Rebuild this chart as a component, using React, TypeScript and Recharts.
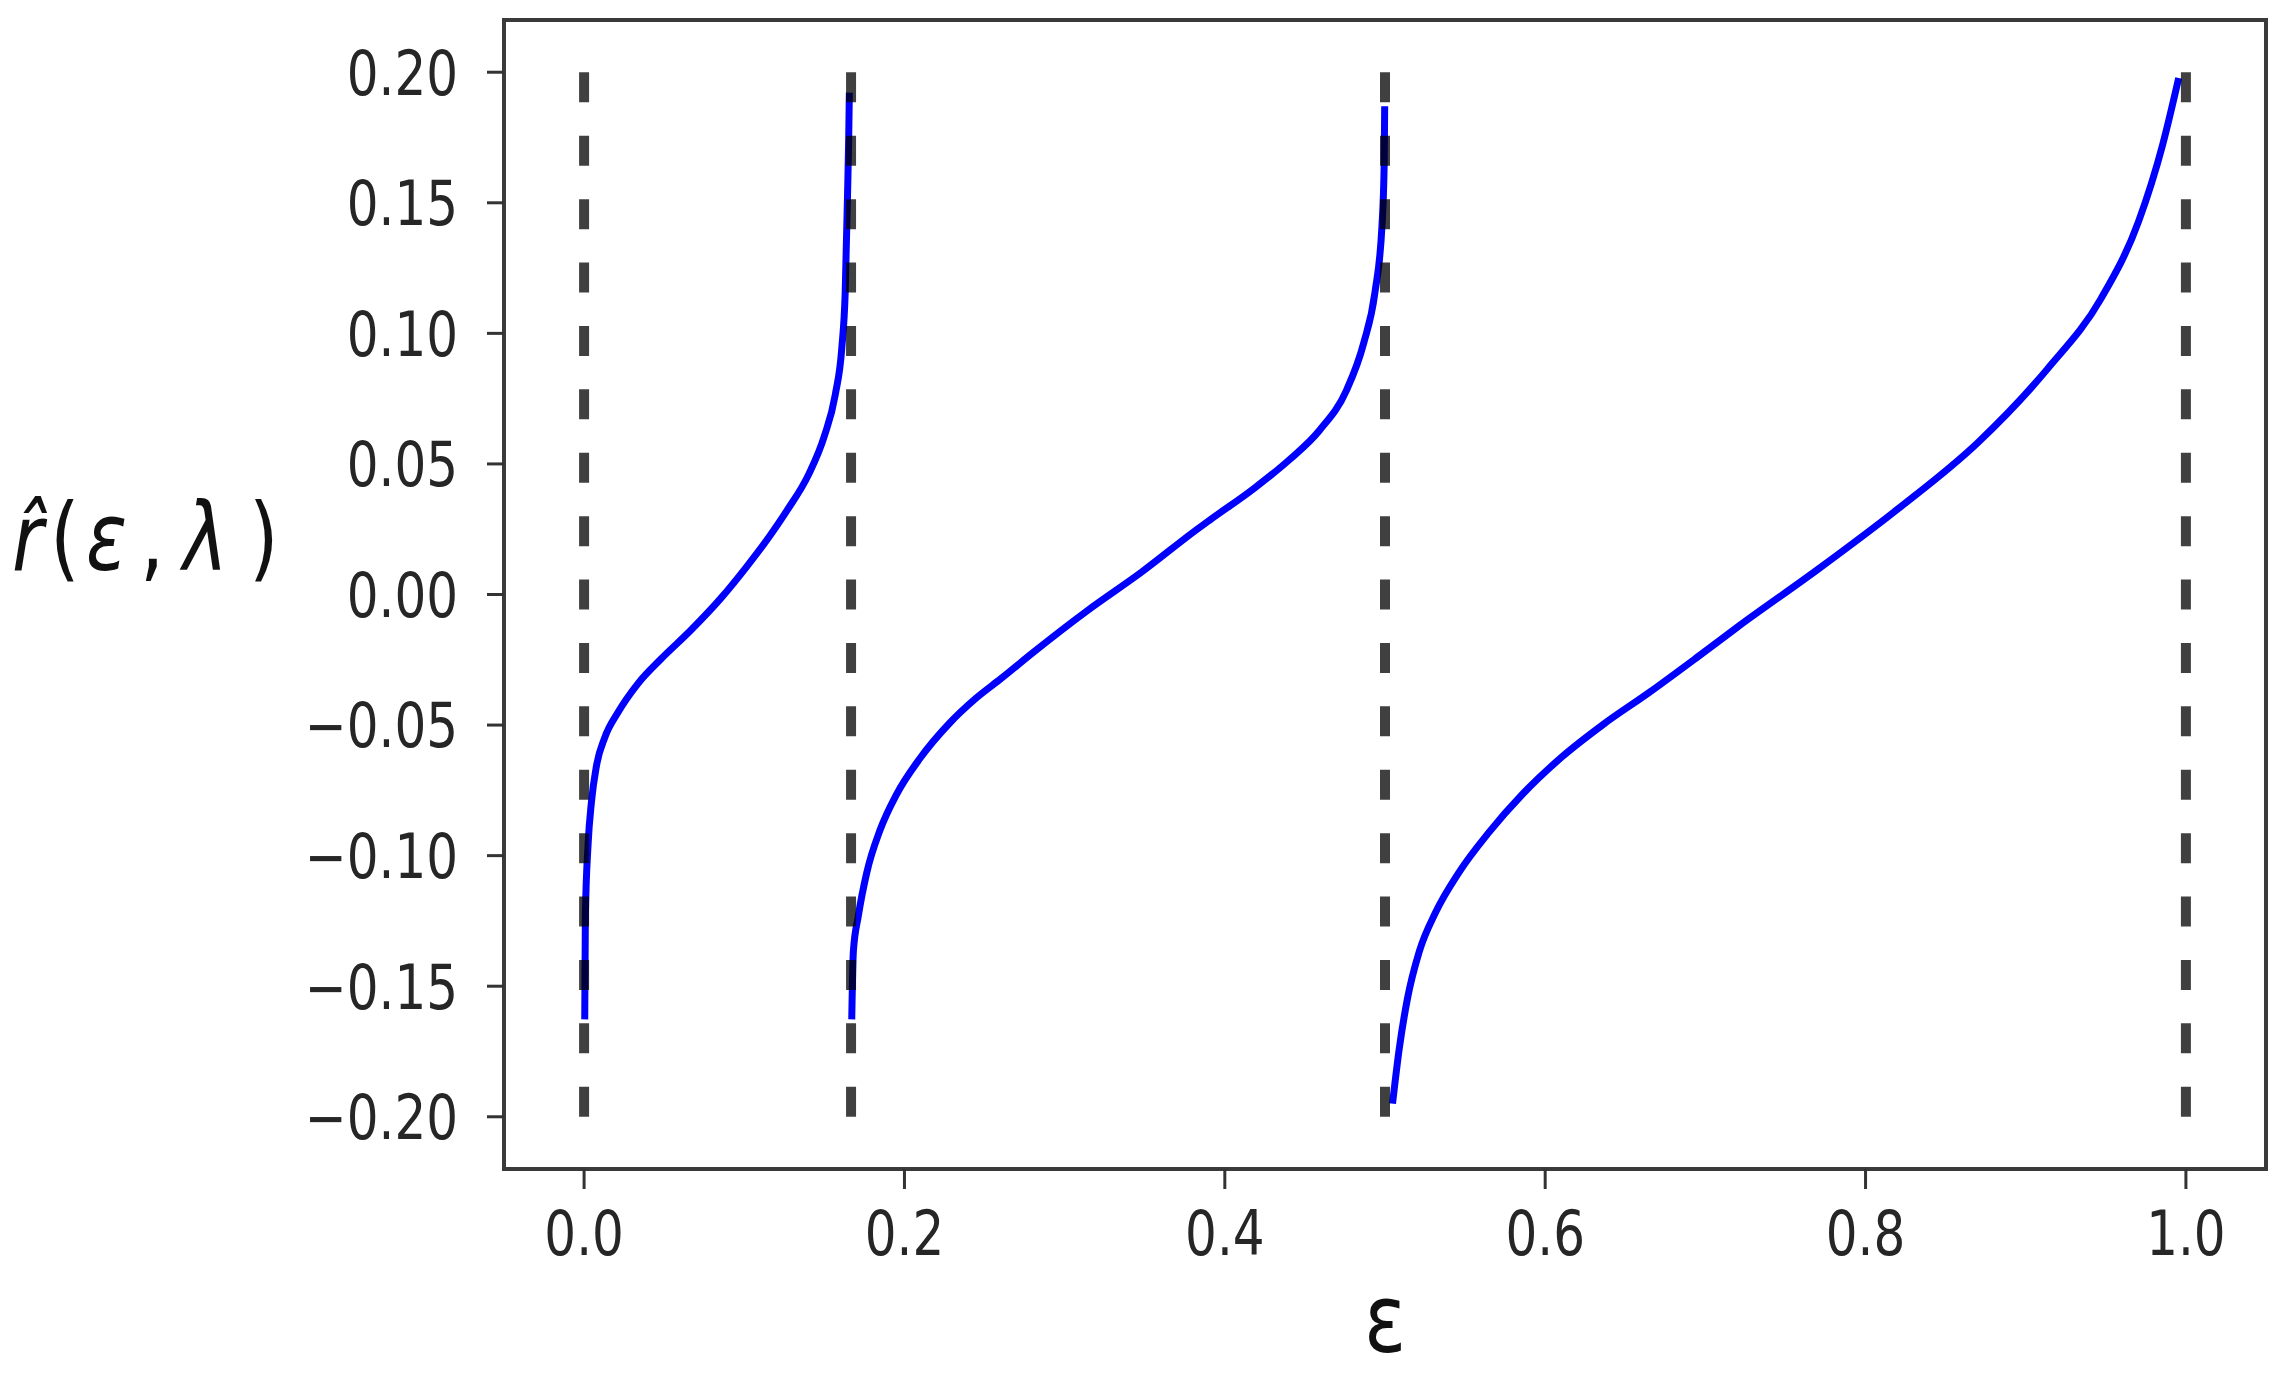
import React from "react";
import { LineChart, Line, XAxis, YAxis, ReferenceArea } from "recharts";

// Branch 1: epsilon in (0, 1/6)
const seg1Eps = [0.0004, 0.0008, 0.0025, 0.0046, 0.0077, 0.0129, 0.0211, 0.0335, 0.048, 0.0666, 0.0853, 0.1013, 0.116, 0.1265, 0.1402, 0.1499, 0.1568, 0.1609, 0.163, 0.1645, 0.1652, 0.1656];
const seg1R = [-0.1627, -0.1231, -0.0957, -0.0794, -0.0657, -0.0548, -0.0452, -0.0342, -0.0247, -0.0137, -0.0015, 0.0105, 0.0225, 0.032, 0.046, 0.0605, 0.0765, 0.0945, 0.1156, 0.1539, 0.175, 0.1922];

// Branch 2: epsilon in (1/6, 1/2)
const seg2Eps = [0.1671, 0.1681, 0.1712, 0.1764, 0.1847, 0.195, 0.2095, 0.2281, 0.2447, 0.2603, 0.2801, 0.3141, 0.3481, 0.3821, 0.3906, 0.418, 0.4401, 0.4593, 0.4758, 0.4868, 0.4937, 0.4981, 0.4995, 0.4998];
const seg2R = [-0.1627, -0.1367, -0.1231, -0.1067, -0.0903, -0.0766, -0.0629, -0.0493, -0.0397, -0.0322, -0.0223, -0.0062, 0.0086, 0.0247, 0.0285, 0.0405, 0.0515, 0.063, 0.078, 0.0965, 0.1156, 0.1411, 0.165, 0.187];

// Branch 3: epsilon in (1/2, 1)
const seg3Eps = [0.5047, 0.5089, 0.514, 0.5213, 0.5317, 0.5463, 0.565, 0.5858, 0.6108, 0.6357, 0.665, 0.695, 0.72, 0.77, 0.8201, 0.8702, 0.9136, 0.947, 0.9704, 0.9855, 0.9955];
const seg3R = [-0.195, -0.1739, -0.1548, -0.1369, -0.1216, -0.1063, -0.091, -0.0765, -0.062, -0.05, -0.0375, -0.024, -0.0125, 0.0095, 0.0327, 0.0582, 0.0864, 0.1133, 0.1428, 0.1723, 0.1978];

// Vertical dashed asymptotes
const asymptoteEps = [0, 1 / 6, 0.5, 1.0];
const asymptoteSpan = [-0.2, 0.2];

const xTicks = [0, 0.2, 0.4, 0.6, 0.8, 1.0];
const yTicks = [-0.2, -0.15, -0.1, -0.05, 0, 0.05, 0.1, 0.15, 0.2];

const toPoints = (xs: number[], ys: number[]) => xs.map((x, i) => ({ x, y: ys[i] }));
const branches = [toPoints(seg1Eps, seg1R), toPoints(seg2Eps, seg2R), toPoints(seg3Eps, seg3R)];
const asymptotes = asymptoteEps.map((e) => asymptoteSpan.map((y) => ({ x: e, y })));

const FONT = "'DejaVu Sans', sans-serif";
const SY = 1.23;
const TICK_COLOR = "#262626";

const fmtY = (v: number) => {
  const s = Math.abs(v).toFixed(2);
  return v < -1e-9 ? "\u2212" + s : s;
};
const fmtX = (v: number) => v.toFixed(1);

const YTick = (props: any) => {
  const { x, y, payload } = props;
  return (
    <g transform={`translate(${x},${y}) scale(1,${SY})`}>
      <text x={0} y={0} dy={18.2} textAnchor="end" fontFamily={FONT} fontSize={50} fill={TICK_COLOR}>
        {fmtY(payload.value)}
      </text>
    </g>
  );
};

const XTick = (props: any) => {
  const { x, y, payload } = props;
  return (
    <g transform={`translate(${x},${y}) scale(1,${SY})`}>
      <text x={0} y={0} dy={53.7} textAnchor="middle" fontFamily={FONT} fontSize={50} fill={TICK_COLOR}>
        {fmtX(payload.value)}
      </text>
    </g>
  );
};

const YLabel = () => (
  <g transform={`translate(0,570) scale(1,${SY})`} fontFamily={FONT} fontSize={76} fill="#111">
    <text y={0}>
      <tspan x={12} y={0} fontStyle="italic">{"r\u0302"}</tspan>
      <tspan x={50} y={0}>(</tspan>
      <tspan x={86} y={0} fontStyle="italic">ε</tspan>
      <tspan x={140} y={0}>,</tspan>
      <tspan x={183} y={0} fontStyle="italic">λ</tspan>
      <tspan x={249} y={0}>)</tspan>
    </text>
  </g>
);

const XLabel = () => (
  <g transform={`translate(1385,1352) scale(1,1.2)`}>
    <text x={0} y={0} textAnchor="middle" fontFamily={FONT} fontSize={78} fill="#111">ε</text>
  </g>
);

export default function App() {
  return (
    <div style={{ position: "absolute", left: 0, top: 0, width: 2283, height: 1377, background: "#fff" }}>
      <LineChart width={2283} height={1377} margin={{ top: 20, right: 17, bottom: 0, left: 0 }}>
        <XAxis
          type="number"
          dataKey="x"
          domain={[-0.05, 1.05]}
          ticks={xTicks}
          allowDataOverflow
          height={208}
          axisLine={false}
          tickSize={20}
          tickMargin={0}
          tickLine={{ stroke: "#333", strokeWidth: 3 }}
          tick={<XTick />}
          interval={0}
        />
        <YAxis
          type="number"
          dataKey="y"
          domain={[-0.22, 0.22]}
          ticks={yTicks}
          allowDataOverflow
          width={504}
          axisLine={false}
          tickSize={17}
          tickMargin={29}
          tickLine={{ stroke: "#333", strokeWidth: 3 }}
          tick={<YTick />}
          interval={0}
        />
        <ReferenceArea x1={-0.05} x2={1.05} y1={-0.22} y2={0.22} fill="none" stroke="#3a3a3a" strokeWidth={4} ifOverflow="visible" />
        {branches.map((d, i) => (
          <Line
            key={"b" + i}
            data={d}
            dataKey="y"
            type="monotone"
            stroke="#0000ff"
            strokeWidth={7}
            dot={false}
            activeDot={false}
            isAnimationActive={false}
          />
        ))}
        {asymptotes.map((d, i) => (
          <Line
            key={"a" + i}
            data={d}
            dataKey="y"
            type="linear"
            stroke="#000"
            strokeOpacity={0.75}
            strokeWidth={10}
            strokeDasharray="30 33.4"
            dot={false}
            activeDot={false}
            isAnimationActive={false}
          />
        ))}
      </LineChart>
      <svg width={2283} height={1377} style={{ position: "absolute", left: 0, top: 0, pointerEvents: "none" }}>
        <YLabel />
        <XLabel />
      </svg>
    </div>
  );
}
